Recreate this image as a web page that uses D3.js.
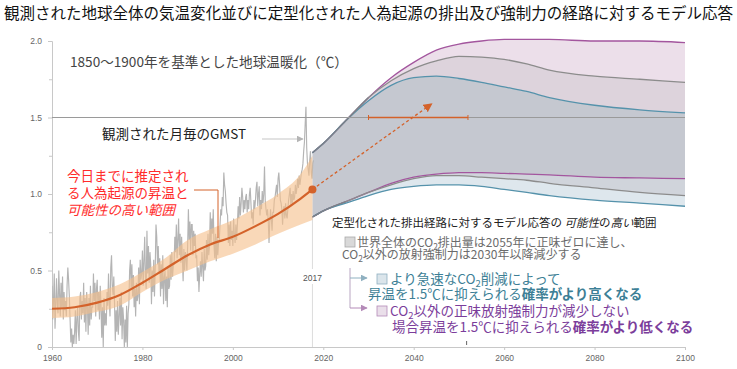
<!DOCTYPE html>
<html lang="ja">
<head>
<meta charset="UTF-8">
<title>地球温暖化 - モデル応答</title>
<script src="https://d3js.org/d3.v7.min.js"></script>
<style>
    body { margin: 0; background: #fff; }
    svg { display: block; font-family: "Noto Sans CJK JP", "Noto Sans", sans-serif; }
    .axis text { font-family: "Liberation Sans", sans-serif; font-size: 8.5px; fill: #666; }
    .axis path, .axis line { stroke: #c8c8c8; }
</style>
</head>
<body>
<svg id="chart" width="737" height="369"></svg>
<script>
// observed monthly GMST (sampled every 2 months), 1960 - 2017
let gmstStart = 1960;
let gmst = [
    .40,.18,.30,.48,.12,.28,  .45,.28,.22,.50,.35,.20,  .42,.25,.46,.18,.36,.24,  .30,.20,.40,.52,.44,.33,
    .18,.03,.12,.00,.08,.02,  .10,.24,.02,.18,.26,.10,  .04,.32,.36,.18,.30,.22,  .42,.16,.32,.10,.36,.27,
    .08,.32,.14,.40,.18,.26,  .26,.48,.30,.42,.20,.38,  .44,.24,.36,.18,.40,.27,  .06,.26,.00,.32,.14,.22,
    .14,.36,.27,.48,.30,.20,  .52,.60,.40,.34,.46,.28,  .04,.24,.10,.30,.08,.20,  .32,.14,.36,.05,.26,.18,
    .00,.18,.03,.27,.00,.22,  .28,.50,.57,.38,.54,.33,  .47,.26,.38,.20,.42,.30,  .33,.52,.28,.57,.44,.48,
    .63,.40,.56,.72,.46,.38,  .76,.48,.66,.42,.62,.54,  .28,.50,.36,.57,.33,.52,  .80,.72,.54,.66,.48,.58,
    .33,.54,.38,.60,.28,.45,  .50,.30,.46,.26,.52,.38,  .40,.60,.44,.62,.46,.54,  .54,.72,.62,.80,.58,.70,
    .84,.60,.74,.55,.72,.58,  .43,.64,.50,.62,.58,.50,  .66,.90,.70,.82,.63,.80,  .80,.60,.76,.66,.74,.58,
    .60,.43,.52,.36,.48,.56,  .46,.62,.52,.43,.64,.50,  .53,.70,.57,.74,.60,.66,  .88,.68,.84,.74,.90,.66,
    .58,.74,.56,.72,.60,.68,  .70,.80,.90,.86,.98,.92,  1.14,1.06,1.02,.94,.88,.86,  .68,.80,.66,.82,.70,.76,
    .66,.84,.74,.68,.80,.70,  .80,.92,.84,.98,.86,.94,  1.04,.98,.88,.96,.90,.98,  1.00,.88,.96,.90,1.00,1.04,
    .94,.84,.88,.80,.96,.90,  .96,1.04,1.08,.92,1.00,1.05,  .86,.96,.90,1.02,.94,1.00,  1.18,.95,.90,.86,.90,.82,
    .68,.82,.90,.84,.76,.88,  .88,.96,.98,1.02,1.06,.98,  1.10,1.14,1.06,.96,.94,.90,  .80,.90,.92,.84,.94,.86,
    .84,.90,.96,1.00,1.04,.92,  1.00,.94,1.02,.96,.98,1.06,  1.00,1.04,1.10,1.04,1.12,1.06,  1.10,1.14,1.16,1.20,1.28,1.34,
    1.46,1.57,1.30,1.20,1.16,1.12,  1.22,1.28,1.14,1.10,1.20,1.22
];

// estimated human-induced warming and its likely range
let humanYears = [1960, 1965, 1970, 1975, 1980, 1985, 1990, 1995, 2000, 2005, 2010, 2015, 2017.6];
let humanMid   = [.25, .26, .29, .34, .42, .51, .60, .67, .72, .79, .87, .97, 1.03];
let humanLo    = [.19, .20, .23, .27, .36, .44, .50, .56, .61, .67, .74, .80, .83];
let humanHi    = [.32, .33, .36, .41, .49, .58, .70, .77, .83, .91, 1.00, 1.13, 1.25];

// model responses to stylized pathways
let planYears = [2017.6, 2020, 2025, 2030, 2035, 2040, 2045, 2050, 2055, 2060, 2065, 2070, 2080, 2090, 2100];
let purpleUp  = [1.27, 1.33, 1.48, 1.63, 1.76, 1.86, 1.94, 1.98, 2.00, 2.01, 2.01, 2.01, 2.00, 2.00, 1.99];
let grayUp    = [1.27, 1.33, 1.48, 1.63, 1.74, 1.82, 1.87, 1.90, 1.895, 1.88, 1.85, 1.81, 1.77, 1.75, 1.73];
let blueUp    = [1.27, 1.33, 1.48, 1.61, 1.71, 1.76, 1.77, 1.755, 1.73, 1.70, 1.67, 1.63, 1.58, 1.55, 1.53];
let purpleLo  = [.85, .89, .95, 1.01, 1.07, 1.11, 1.13, 1.14, 1.14, 1.135, 1.13, 1.125, 1.11, 1.105, 1.10];
let grayLo    = [.85, .89, .95, 1.01, 1.06, 1.10, 1.12, 1.12, 1.11, 1.10, 1.09, 1.07, 1.04, 1.01, .99];
let blueLo    = [.85, .89, .94, .99, 1.03, 1.05, 1.06, 1.06, 1.05, 1.03, 1.01, .99, .96, .94, .92];

let reach15 = [2030, 2052];
let arrowTo = [2044, 1.59];
let yTicks = [0, 0.5, 1.0, 1.5, 2.0];
let yMinor = [0.25, 0.75, 1.25, 1.75];
let xTicks = [1960, 1980, 2000, 2020, 2040, 2060, 2080, 2100];

let svg = d3.select('#chart');
let x = d3.scaleLinear().domain([1960, 2100]).range([52, 685]);
let y = d3.scaleLinear().domain([0, 2]).range([347, 41]);

let defs = svg.append('defs');
defs.append('clipPath').attr('id', 'plotclip')
    .append('rect').attr('x', 52).attr('y', 20).attr('width', 640).attr('height', 327);
function marker(id, color) {
    defs.append('marker').attr('id', id)
        .attr('viewBox', '0 0 10 10').attr('refX', 9).attr('refY', 5)
        .attr('markerWidth', 7).attr('markerHeight', 7).attr('orient', 'auto')
        .append('path').attr('d', 'M0,0L10,5L0,10Z').attr('fill', color);
}
marker('arrOrange', '#d4622a');
marker('arrGray', '#b5b5b5');
marker('arrBlue', '#8fb0c0');
marker('arrPurple', '#b48ab8');

// axes
let yAxis = svg.append('g').attr('class', 'axis').attr('transform', 'translate(52,0)')
    .call(d3.axisLeft(y).tickValues(yTicks).tickSize(4).tickPadding(6)
        .tickFormat(d => d === 0 ? '0' : d3.format('.1f')(d)));
yAxis.selectAll('.tick text').attr('dy', '0.3em');
svg.append('g').attr('class', 'axis').attr('transform', 'translate(52,0)')
    .call(d3.axisLeft(y).tickValues(yMinor).tickSize(3).tickFormat(''))
    .select('.domain').remove();
svg.append('g').attr('class', 'axis').attr('transform', 'translate(0,347)')
    .call(d3.axisBottom(x).tickValues(xTicks).tickSize(3).tickPadding(5).tickFormat(d3.format('d')));

// 2017 marker line
let x2017 = x(2017.6);
svg.append('line').attr('x1', x2017).attr('x2', x2017).attr('y1', y(0.85)).attr('y2', 269)
    .attr('stroke', '#dcdcdc');
svg.append('line').attr('x1', x2017).attr('x2', x2017).attr('y1', 284).attr('y2', 347)
    .attr('stroke', '#dcdcdc');
svg.append('text').attr('x', x2017).attr('y', 281).attr('text-anchor', 'middle')
    .attr('font-family', 'Liberation Sans').attr('font-size', 8.5).attr('fill', '#555').text('2017');

// plume bands
let bands = [
    [purpleUp, grayUp, '#ecdfea'],
    [grayUp, blueUp, '#ddd3dc'],
    [blueUp, purpleLo, '#c5c8d0'],
    [purpleLo, grayLo, '#d0d4db'],
    [grayLo, blueLo, '#dee7ed']
];
let curve = d3.curveMonotoneX;
bands.forEach(b => {
    let area = d3.area().curve(curve)
        .x((d, i) => x(planYears[i])).y0((d, i) => y(b[1][i])).y1((d, i) => y(b[0][i]));
    svg.append('path').datum(planYears).attr('d', area).attr('fill', b[2]);
});
let lineSets = [
    [purpleUp, '#a3569e'], [grayUp, '#8c8c8c'], [blueUp, '#5592ab'],
    [purpleLo, '#a3569e'], [grayLo, '#8c8c8c'], [blueLo, '#5592ab']
];
lineSets.forEach(l => {
    let line = d3.line().curve(curve).x((d, i) => x(planYears[i])).y((d, i) => y(l[0][i]));
    svg.append('path').datum(planYears).attr('d', line)
        .attr('fill', 'none').attr('stroke', l[1]).attr('stroke-width', 1.3);
});
// shared start of the pathways
[[purpleUp, 4], [purpleLo, 3]].forEach(s => {
    svg.append('path').datum(planYears.slice(0, s[1]))
        .attr('d', d3.line().curve(curve).x(d => x(d)).y((d, i) => y(s[0][i])))
        .attr('fill', 'none').attr('stroke', '#7d8088').attr('stroke-width', 1.3);
});

// observed monthly GMST
let obsLine = d3.line().x((d, i) => x(gmstStart + i / 6)).y(d => y(d));
svg.append('path').datum(gmst).attr('d', obsLine).attr('clip-path', 'url(#plotclip)')
    .attr('fill', 'none').attr('stroke', '#b4b4b4').attr('stroke-width', 1.15);

// human-induced warming range
let humanArea = d3.area().curve(d3.curveMonotoneX)
    .x((d, i) => x(humanYears[i])).y0((d, i) => y(humanLo[i])).y1((d, i) => y(humanHi[i]));
svg.append('path').datum(humanYears).attr('d', humanArea)
    .attr('fill', '#f5c08c').attr('opacity', 0.62);
let humanLine = d3.line().curve(d3.curveMonotoneX).x((d, i) => x(humanYears[i])).y((d, i) => y(humanMid[i]));
svg.append('path').datum(humanYears).attr('d', humanLine)
    .attr('fill', 'none').attr('stroke', '#d4622a').attr('stroke-width', 2.2);

// 1.5 line and time window
svg.append('line').attr('x1', x(1960)).attr('x2', x(2100)).attr('y1', y(1.5)).attr('y2', y(1.5))
    .attr('stroke', '#9a9a9a').attr('stroke-width', 1);
svg.append('line').attr('x1', x(reach15[0])).attr('x2', x(reach15[1])).attr('y1', y(1.5)).attr('y2', y(1.5))
    .attr('stroke', '#d4622a').attr('stroke-width', 1.3);
reach15.forEach(d => {
    svg.append('line').attr('x1', x(d)).attr('x2', x(d)).attr('y1', y(1.5) - 2.5).attr('y2', y(1.5) + 2.5)
        .attr('stroke', '#d4622a').attr('stroke-width', 1);
});
svg.append('line').attr('x1', x(2051.7)).attr('x2', x(2051.7)).attr('y1', 341).attr('y2', 345)
    .attr('stroke', '#666');

// dashed projection arrow
let last = humanMid.length - 1;
svg.append('line')
    .attr('x1', x(humanYears[last])).attr('y1', y(humanMid[last]))
    .attr('x2', x(arrowTo[0])).attr('y2', y(arrowTo[1]))
    .attr('stroke', '#d4622a').attr('stroke-width', 1.3).attr('stroke-dasharray', '3,2.5')
    .attr('marker-end', 'url(#arrOrange)');
svg.append('circle').attr('cx', x(humanYears[last])).attr('cy', y(humanMid[last])).attr('r', 4)
    .attr('fill', '#d4622a');

// title & labels
svg.append('text').attr('x', 4).attr('y', 19).attr('font-size', 15.4).attr('fill', '#111')
    .attr('textLength', 729).attr('lengthAdjust', 'spacingAndGlyphs')
    .text('観測された地球全体の気温変化並びに定型化された人為起源の排出及び強制力の経路に対するモデル応答');
svg.append('text').attr('x', 70).attr('y', 67).attr('font-size', 13.6).attr('fill', '#444')
    .text('1850～1900年を基準とした地球温暖化（℃）');
svg.append('text').attr('x', 102).attr('y', 139).attr('font-size', 13.5).attr('fill', '#222')
    .text('観測された月毎のGMST');
svg.append('line').attr('x1', 262).attr('x2', 303).attr('y1', 139).attr('y2', 139)
    .attr('stroke', '#c5c5c5').attr('stroke-width', 1).attr('marker-end', 'url(#arrGray)');

let red = svg.append('g').attr('font-size', 13.5).attr('fill', '#ff2b2b');
red.append('text').attr('x', 67).attr('y', 181).text('今日までに推定され');
red.append('text').attr('x', 67).attr('y', 198).text('る人為起源の昇温と');
red.append('text').attr('x', 67).attr('y', 215).attr('font-style', 'italic').text('可能性の高い範囲');
svg.append('path').attr('d', 'M194,190H218V238').attr('fill', 'none')
    .attr('stroke', '#d4622a').attr('stroke-width', 1);

// model response legend
let t1 = svg.append('text').attr('x', 332).attr('y', 227).attr('font-size', 11.5).attr('fill', '#222');
t1.append('tspan').text('定型化された排出経路に対するモデル応答の ');
t1.append('tspan').attr('font-style', 'italic').text('可能性');
t1.append('tspan').text('の');
t1.append('tspan').attr('font-style', 'italic').text('高い');
t1.append('tspan').text('範囲');

function co2(sel, rest) {
    sel.append('tspan').text('CO');
    sel.append('tspan').attr('font-size', '0.7em').attr('dy', 3).text('2');
    sel.append('tspan').attr('dy', -3).text(rest);
}
svg.append('rect').attr('x', 345).attr('y', 237).attr('width', 10).attr('height', 10)
    .attr('fill', '#d9d9d9').attr('stroke', '#aaa').attr('stroke-width', 0.8);
let g1 = svg.append('text').attr('x', 357).attr('y', 247).attr('font-size', 12).attr('fill', '#6b6b6b');
g1.append('tspan').text('世界全体の');
co2(g1, '排出量は2055年に正味ゼロに達し、');
let g2 = svg.append('text').attr('x', 342).attr('y', 259).attr('font-size', 12).attr('fill', '#6b6b6b');
co2(g2, '以外の放射強制力は2030年以降減少する');

svg.append('path').attr('d', 'M350,268V308').attr('fill', 'none').attr('stroke', '#b9a6c2');
svg.append('path').attr('d', 'M350,278H367').attr('fill', 'none').attr('stroke', '#8fb0c0')
    .attr('marker-end', 'url(#arrBlue)');
svg.append('path').attr('d', 'M350,308H367').attr('fill', 'none').attr('stroke', '#b48ab8')
    .attr('marker-end', 'url(#arrPurple)');

svg.append('rect').attr('x', 377).attr('y', 274).attr('width', 10).attr('height', 10)
    .attr('fill', '#dbe5eb').attr('stroke', '#8fb0c0').attr('stroke-width', 0.8);
let b1 = svg.append('text').attr('x', 390).attr('y', 284).attr('font-size', 13.5).attr('fill', '#3d7f96');
b1.append('tspan').text('より急速な');
co2(b1, '削減によって');
let b2 = svg.append('text').attr('x', 368).attr('y', 299).attr('font-size', 13.5).attr('fill', '#3d7f96');
b2.append('tspan').text('昇温を1.5℃に抑えられる');
b2.append('tspan').attr('font-weight', 'bold').text('確率がより高くなる');

svg.append('rect').attr('x', 377).attr('y', 306).attr('width', 10).attr('height', 10)
    .attr('fill', '#eadfea').attr('stroke', '#b48ab8').attr('stroke-width', 0.8);
let p1 = svg.append('text').attr('x', 390).attr('y', 316).attr('font-size', 13.5).attr('fill', '#7b3d9b');
co2(p1, '以外の正味放射強制力が減少しない');
let p2 = svg.append('text').attr('x', 392).attr('y', 332).attr('font-size', 13.5).attr('fill', '#7b3d9b');
p2.append('tspan').text('場合昇温を1.5℃に抑えられる');
p2.append('tspan').attr('font-weight', 'bold').text('確率がより低くなる');
</script>
</body>
</html>
